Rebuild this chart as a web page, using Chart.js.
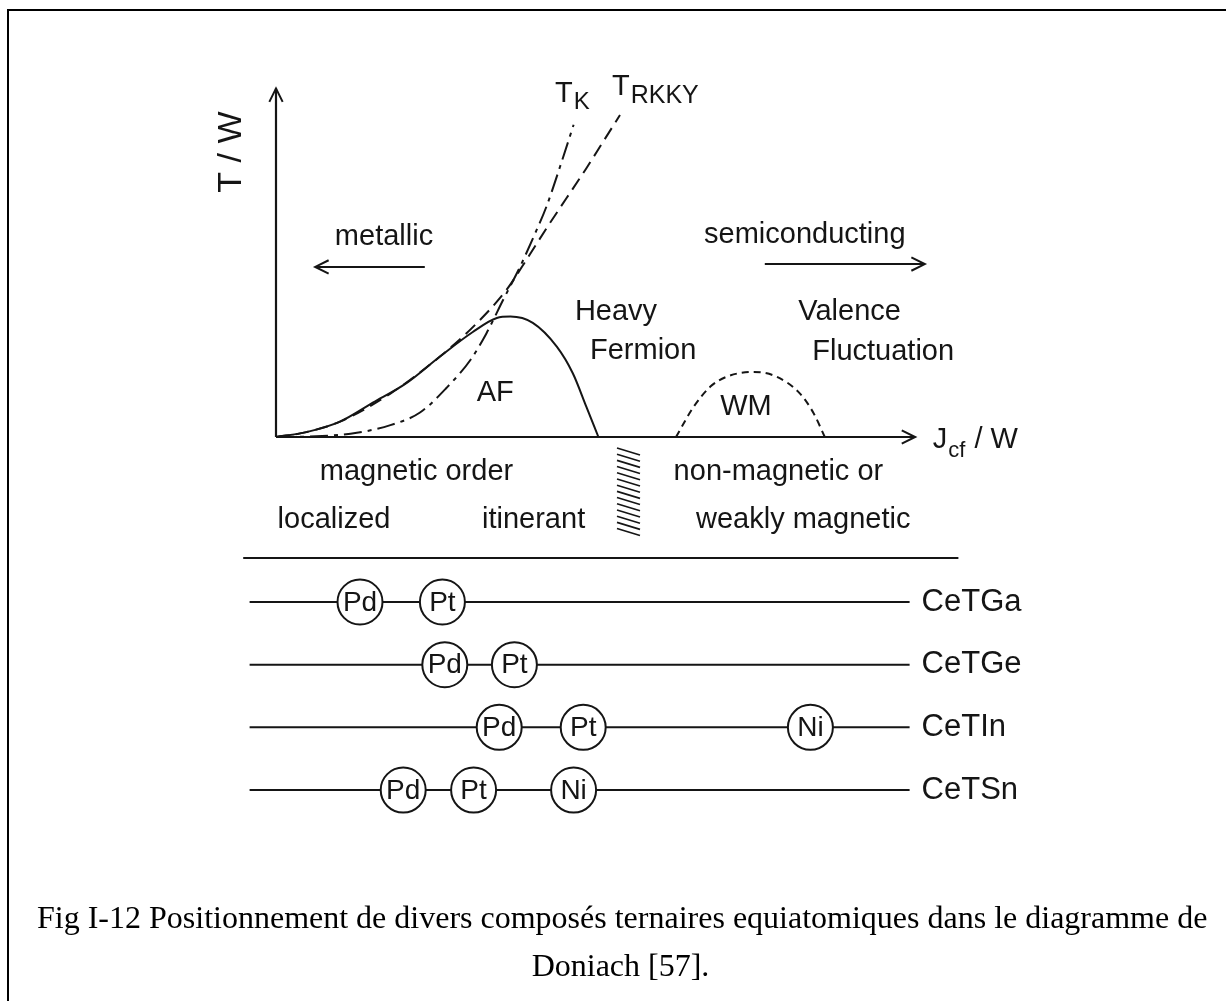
<!DOCTYPE html>
<html><head><meta charset="utf-8">
<script src="https://cdn.jsdelivr.net/npm/chart.js@4.4.1/dist/chart.umd.min.js"></script>
<style>
html,body{margin:0;padding:0;background:#fff;width:1226px;height:1001px;overflow:hidden;}
#frame{position:absolute;left:7px;top:9px;width:1300px;height:1100px;border-top:2px solid #000;border-left:2px solid #000;}
#c{position:absolute;left:0;top:0;}
.cap{position:absolute;font-family:"Liberation Serif","Times New Roman",serif;font-size:32px;line-height:40px;color:#000;white-space:nowrap;}
</style></head><body>
<div id="frame"></div>
<canvas id="c" width="1226" height="1001"></canvas>
<div class="cap" style="left:37px;top:897px;width:1167px;text-align:justify;text-align-last:justify;">Fig I-12 Positionnement de divers composés ternaires equiatomiques dans le diagramme de</div>
<div class="cap" style="left:37px;top:945px;width:1167px;text-align:center;">Doniach [57].</div>
<script>
// ---- Data (x = Jcf/W, y = T/W, arbitrary units) ----
const afCurveX   = [0, 0.38, 0.80, 1.21, 1.63, 2.05, 2.46, 2.76, 2.93, 3.21, 3.51, 3.71, 3.88, 4.03];
const afCurveY   = [0, 0.07, 0.22, 0.49, 0.77, 1.15, 1.50, 1.70, 1.72, 1.63, 1.29, 0.91, 0.43, 0];
const tkCurveX   = [0, 0.50, 1.01, 1.43, 1.80, 2.13, 2.43, 2.63, 2.84, 3.05, 3.22, 3.38, 3.55, 3.72];
const tkCurveY   = [0, 0.01, 0.06, 0.17, 0.35, 0.70, 1.10, 1.48, 1.96, 2.43, 2.86, 3.29, 3.86, 4.46];
const rkkyCurveX = [0, 0.38, 0.80, 1.43, 2.05, 2.47, 2.88, 3.13, 3.38, 3.63, 3.88, 4.09, 4.30];
const rkkyCurveY = [0, 0.07, 0.22, 0.62, 1.15, 1.58, 2.10, 2.53, 2.98, 3.41, 3.84, 4.22, 4.60];
const wmCurveX   = [5.00, 5.22, 5.43, 5.63, 5.97, 6.26, 6.55, 6.72, 6.86];
const wmCurveY   = [0, 0.43, 0.72, 0.86, 0.93, 0.86, 0.62, 0.34, 0];

// Compounds on the Jcf/W line (position of each transition metal T)
const compounds = ['CeTGa', 'CeTGe', 'CeTIn', 'CeTSn'];
const pdPos = [1.05, 2.11, 2.79, 1.59];
const ptPos = [2.08, 2.98, 3.84, 2.47];
const niPos = [null, null, 6.68, 3.72];

// ---- Layout / styling ----
const ink = '#151515';
const sans = '"Liberation Sans", Arial, Helvetica, sans-serif';
const pts = (xs, ys) => xs.map((x, i) => ({x, y: ys[i]}));

const rowLineStart = -0.33, rowLineEnd = 7.92;

const datasets = [
  {id:'yaxis', data:[{x:0,y:0},{x:0,y:4.98}], arrowEnd:true, borderWidth:2.2},
  {id:'xaxis', data:[{x:0,y:0},{x:7.99,y:0}], arrowEnd:true, borderWidth:2.2},
  {id:'af', data:pts(afCurveX, afCurveY), cubicInterpolationMode:'monotone', borderWidth:2},
  {id:'tk', data:pts(tkCurveX, tkCurveY), cubicInterpolationMode:'monotone', borderWidth:2, borderDash:[18,6,4,6]},
  {id:'rkky', data:pts(rkkyCurveX, rkkyCurveY), cubicInterpolationMode:'monotone', borderWidth:2, borderDash:[13,7]},
  {id:'wm', data:pts(wmCurveX, wmCurveY), cubicInterpolationMode:'monotone', borderWidth:2, borderDash:[7,5]},
  {id:'metal', data:[{x:1.86,y:2.43},{x:0.49,y:2.43}], arrowEnd:true, borderWidth:2},
  {id:'semi', data:[{x:6.11,y:2.47},{x:8.11,y:2.47}], arrowEnd:true, borderWidth:2},
  {id:'sep', data:[{x:-0.41,y:-1.73},{x:8.53,y:-1.73}], borderWidth:2},
];
datasets.forEach(d => Object.assign(d, {showLine:true, pointRadius:0, borderColor:ink, fill:false, order:5, tension:0}));

compounds.forEach((c, i) => {
  datasets.push({id:'row'+i, yAxisID:'yRow', data:[{x:rowLineStart,y:i},{x:rowLineEnd,y:i}],
    showLine:true, pointRadius:0, borderColor:ink, borderWidth:2, order:5, rowLabel:c});
});
const elems = [['Pd', pdPos], ['Pt', ptPos], ['Ni', niPos]];
elems.forEach(([name, arr]) => {
  const data = [];
  arr.forEach((v, i) => { if (v !== null) data.push({x:v, y:i}); });
  datasets.push({id:'el'+name, elem:name, yAxisID:'yRow', data, showLine:false,
    pointRadius:22.5, pointBackgroundColor:'#fff', pointBorderColor:ink, pointBorderWidth:2, order:0});
});

const textLabels = [
  {t:'metallic', x:1.35, y:2.857},
  {t:'semiconducting', x:6.61, y:2.886},
  {t:'Heavy', x:4.25, y:1.786},
  {t:'Fermion', x:4.59, y:1.229},
  {t:'Valence', x:7.17, y:1.786},
  {t:'Fluctuation', x:7.59, y:1.214},
  {t:'AF', x:2.74, y:0.629},
  {t:'WM', x:5.875, y:0.429},
  {t:'magnetic order', x:1.756, y:-0.5},
  {t:'localized', x:0.725, y:-1.186},
  {t:'itinerant', x:3.22, y:-1.186},
  {t:'non-magnetic or', x:6.28, y:-0.5},
  {t:'weakly magnetic', x:6.59, y:-1.186},
];
const subLabels = [
  {x:3.4875, y:4.786, parts:[{t:'T', s:29, dy:0},{t:'K', s:24, dy:7}]},
  {x:4.2, y:4.886, parts:[{t:'T', s:29, dy:0},{t:'RKKY', s:25, dy:8}]},
  {x:8.21, y:-0.157, parts:[{t:'J', s:29, dy:0},{t:'cf', s:22, dy:9},{t:' / W', s:29, dy:0}]},
];

function arrowHead(ctx, x0, y0, x1, y1) {
  const a = Math.atan2(y1 - y0, x1 - x0), L = 15, w = 0.46;
  ctx.beginPath();
  ctx.moveTo(x1 - L*Math.cos(a - w), y1 - L*Math.sin(a - w));
  ctx.lineTo(x1, y1);
  ctx.lineTo(x1 - L*Math.cos(a + w), y1 - L*Math.sin(a + w));
  ctx.stroke();
}

const decor = {
  id:'decor',
  afterDatasetsDraw(chart) {
    const ctx = chart.ctx, xs = chart.scales.x, ys = chart.scales.y, yr = chart.scales.yRow;
    ctx.save();
    ctx.strokeStyle = ink; ctx.fillStyle = ink; ctx.lineWidth = 2; ctx.setLineDash([]);
    chart.data.datasets.forEach(d => {
      if (!d.arrowEnd) return;
      const n = d.data.length, p0 = d.data[n-2], p1 = d.data[n-1];
      arrowHead(ctx, xs.getPixelForValue(p0.x), ys.getPixelForValue(p0.y), xs.getPixelForValue(p1.x), ys.getPixelForValue(p1.y));
    });
    // hatch (crossover region)
    const hx = xs.getPixelForValue(4.2625), hy = ys.getPixelForValue(-0.157);
    ctx.lineWidth = 1.6;
    for (let k = 0; k < 14; k++) {
      ctx.beginPath(); ctx.moveTo(hx, hy + k*6.2); ctx.lineTo(hx + 23, hy + k*6.2 + 7); ctx.stroke();
    }
    ctx.textAlign = 'center'; ctx.textBaseline = 'middle';
    ctx.font = '29px ' + sans;
    textLabels.forEach(l => ctx.fillText(l.t, xs.getPixelForValue(l.x), ys.getPixelForValue(l.y)));
    ctx.textAlign = 'left'; ctx.textBaseline = 'alphabetic';
    subLabels.forEach(l => {
      let px = xs.getPixelForValue(l.x); const py = ys.getPixelForValue(l.y);
      l.parts.forEach(p => {
        ctx.font = p.s + 'px ' + sans;
        ctx.fillText(p.t, px, py + p.dy);
        px += ctx.measureText(p.t).width + 1;
      });
    });
    ctx.save();
    ctx.translate(xs.getPixelForValue(-0.55), ys.getPixelForValue(4.071));
    ctx.rotate(-Math.PI/2);
    ctx.textAlign = 'center'; ctx.textBaseline = 'middle';
    ctx.font = '34px ' + sans;
    ctx.fillText('T / W', 0, 0);
    ctx.restore();
    ctx.font = '31px ' + sans; ctx.textBaseline = 'middle'; ctx.textAlign = 'left';
    chart.data.datasets.forEach(d => {
      if (d.rowLabel) ctx.fillText(d.rowLabel, xs.getPixelForValue(rowLineEnd) + 12, yr.getPixelForValue(d.data[0].y));
    });
    ctx.font = '28px ' + sans; ctx.textAlign = 'center';
    chart.data.datasets.forEach((d, i) => {
      if (!d.elem) return;
      chart.getDatasetMeta(i).data.forEach(pt => ctx.fillText(d.elem, pt.x, pt.y + 1));
    });
    ctx.restore();
  }
};

new Chart(document.getElementById('c'), {
  type:'scatter',
  data:{datasets},
  options:{
    responsive:false, animation:false, events:[], devicePixelRatio:1,
    layout:{padding:{left:196, right:230, top:87, bottom:144}},
    plugins:{legend:{display:false}, tooltip:{enabled:false}},
    scales:{
      x:{type:'linear', min:-1, max:9, display:false},
      y:{type:'linear', min:-6, max:5, display:false},
      yRow:{type:'linear', min:-8.218, max:4.069, reverse:true, display:false}
    }
  },
  plugins:[decor]
});
</script>
</body></html>
